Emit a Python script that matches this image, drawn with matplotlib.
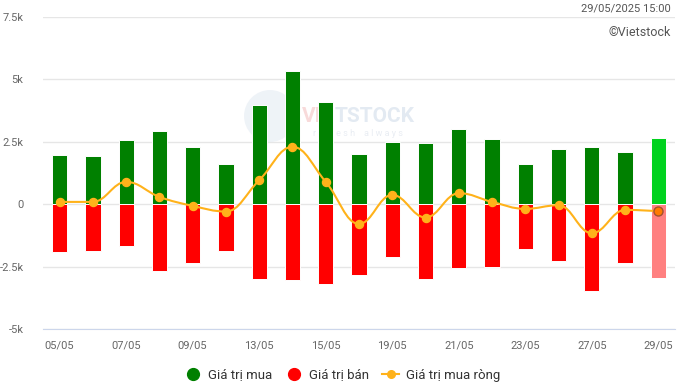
import matplotlib.pyplot as plt
import numpy as np
from matplotlib.lines import Line2D
from matplotlib.path import Path
from matplotlib.patches import PathPatch, Ellipse

plt.rcParams["font.family"] = ["Roboto", "DejaVu Sans"]

dates = ["05/05", "06/05", "07/05", "08/05", "09/05", "12/05", "13/05",
         "14/05", "15/05", "16/05", "19/05", "20/05", "21/05", "22/05",
         "23/05", "26/05", "27/05", "28/05", "29/05"]
buy_values = [1966, 1925, 2567, 2928, 2286, 1604, 3970, 5333, 4090, 2005,
              2487, 2446, 3008, 2607, 1604, 2206, 2286, 2085, 2647]
sell_values = [-1913, -1872, -1672, -2674, -2353, -1872, -2995, -3035, -3196,
               -2835, -2113, -2995, -2554, -2514, -1792, -2273, -3476, -2353,
               -2955]
net_values = [92, 92, 894, 293, -67, -293, 962, 2298, 894, -790,
              373, -533, 441, 92, -188, -40, -1163, -228, -280]
y_ticks = [-5000, -2500, 0, 2500, 5000, 7500]
y_tick_labels = ["-5k", "-2.5k", "0", "2.5k", "5k", "7.5k"]

GREEN = "#008000"
RED = "#ff0000"
LINE = "#ffb21a"


def spline_path(xs, ys, smoothing=1.5):
    # highcharts-like spline through the points
    n = len(xs)
    denom = smoothing + 1
    left = [None] * n
    right = [None] * n
    for i in range(1, n - 1):
        lx, ly = xs[i - 1], ys[i - 1]
        px, py = xs[i], ys[i]
        nx, ny = xs[i + 1], ys[i + 1]
        lcx = (smoothing * px + lx) / denom
        lcy = (smoothing * py + ly) / denom
        rcx = (smoothing * px + nx) / denom
        rcy = (smoothing * py + ny) / denom
        corr = (rcy - lcy) * (rcx - px) / (rcx - lcx) + py - rcy
        lcy += corr
        rcy += corr
        if lcy > ly and lcy > py:
            lcy = max(ly, py)
            rcy = 2 * py - lcy
        elif lcy < ly and lcy < py:
            lcy = min(ly, py)
            rcy = 2 * py - lcy
        if rcy > ny and rcy > py:
            rcy = max(ny, py)
            lcy = 2 * py - rcy
        elif rcy < ny and rcy < py:
            rcy = min(ny, py)
            lcy = 2 * py - rcy
        left[i] = (lcx, lcy)
        right[i] = (rcx, rcy)
    left[n - 1] = (xs[n - 1], ys[n - 1])
    right[0] = (xs[0], ys[0])
    verts = [(xs[0], ys[0])]
    codes = [Path.MOVETO]
    for i in range(1, n):
        verts += [right[i - 1], left[i], (xs[i], ys[i])]
        codes += [Path.CURVE4] * 3
    return Path(verts, codes)


fig = plt.figure(figsize=(6.81, 3.86), dpi=100)
ax = fig.add_axes([43 / 681, 1 - 329 / 386, 632 / 681, 312 / 386])

x = np.arange(len(dates))
buy_colors = [GREEN] * (len(dates) - 1) + ["#00d21e"]
sell_colors = [RED] * (len(dates) - 1) + ["#ff8080"]
ax.bar(x, buy_values, width=0.46, color=buy_colors, edgecolor="white",
       linewidth=0.7, zorder=2)
ax.bar(x, sell_values, width=0.46, color=sell_colors, edgecolor="white",
       linewidth=0.7, zorder=2)

ax.add_patch(PathPatch(spline_path(list(x), net_values), facecolor="none",
                       edgecolor=LINE, linewidth=1.5, zorder=3))
ax.plot(x[:-1], net_values[:-1], "o", color=LINE, markersize=5.8, zorder=4)
ax.plot(x[-1:], net_values[-1:], "o", color="#ff7a00", markeredgecolor="#a0522d",
        markeredgewidth=1, markersize=6.5, zorder=4)

# faint watermark behind the bars
ax.add_patch(Ellipse((270 / 681, 1 - 116 / 386), 52 / 681, 52 / 386,
                     transform=fig.transFigure, facecolor="#e4ebf3",
                     alpha=0.6, zorder=1))
ax.text(302 / 681, 1 - 117 / 386, "VIE", transform=fig.transFigure,
        color="#f8dada", fontsize=15, fontweight="bold", va="center",
        ha="left", zorder=1)
ax.text(335 / 681, 1 - 117 / 386, "TSTOCK", transform=fig.transFigure,
        color="#e3eaf2", fontsize=15, fontweight="bold", va="center",
        ha="left", zorder=1)
ax.text(313 / 681, 1 - 133 / 386, "r e f r e s h    a l w a y s",
        transform=fig.transFigure, color="#e9edf3", fontsize=6.5,
        va="center", ha="left", zorder=1)

ax.set_xlim(-0.5, len(dates) - 0.5)
ax.set_ylim(-5000, 7500)
ax.set_yticks(y_ticks)
ax.set_yticklabels(y_tick_labels)
ax.set_xticks(x[::2])
ax.set_xticklabels(dates[::2])
ax.grid(True, axis="y", color="#e6e6e6", linewidth=1, zorder=0)
ax.set_axisbelow(True)
for side in ["top", "right", "left"]:
    ax.spines[side].set_visible(False)
ax.spines["bottom"].set_color("#ccd6eb")
ax.tick_params(axis="both", length=0, labelsize=8, labelcolor="#666666")
ax.tick_params(axis="x", pad=8)
ax.tick_params(axis="y", pad=14)

fig.text(671 / 681, 1 - 9 / 386, "29/05/2025 15:00", ha="right", va="center",
         fontsize=8, color="#555555")
fig.text(671 / 681, 1 - 33 / 386, "©Vietstock", ha="right", va="center",
         fontsize=9, color="#555555")

handles = [
    Line2D([], [], linestyle="none", marker="o", color=GREEN, markersize=8.5),
    Line2D([], [], linestyle="none", marker="o", color=RED, markersize=8.5),
    Line2D([], [], color=LINE, marker="o", markersize=5.5, linewidth=1.5),
]
fig.legend(handles, ["Giá trị mua", "Giá trị bán", "Giá trị mua ròng"],
           loc="center", bbox_to_anchor=(342 / 681, 1 - 375 / 386), ncol=3,
           frameon=False, fontsize=9.5, handlelength=1.3, handletextpad=0.5,
           columnspacing=1.0, labelcolor="#333333")

fig.savefig("out.png", dpi=100)
